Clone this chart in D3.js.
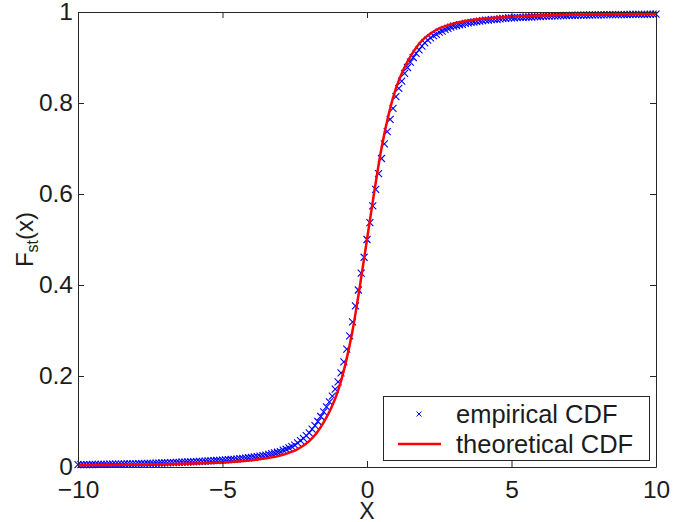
<!DOCTYPE html>
<html>
<head>
<meta charset="utf-8">
<script src="https://cdn.jsdelivr.net/npm/d3@7"></script>
<style>
  html, body { margin: 0; padding: 0; background: #fff; }
  svg { display: block; }
  text { font-family: "Liberation Sans", Arial, Helvetica, sans-serif; fill: #1c1c1c; }
</style>
</head>
<body>
<svg id="chart" width="692" height="522"></svg>
<script>
// Tick positions and labels
const xTicks = [-10, -5, 0, 5, 10];
const xTickLabels = ["\u221210", "\u22125", "0", "5", "10"];
const yTicks = [0, 0.2, 0.4, 0.6, 0.8, 1];
const yTickLabels = ["0", "0.2", "0.4", "0.6", "0.8", "1"];

// Theoretical CDF, sampled along x
const theoX = [-10, -9, -8, -7, -6, -5, -4.5, -4, -3.5, -3, -2.75, -2.5, -2.25, -2, -1.75, -1.5, -1.25, -1, -0.75, -0.5, -0.25,
  0, 0.25, 0.5, 0.75, 1, 1.25, 1.5, 1.75, 2, 2.25, 2.5, 2.75, 3, 3.5, 4, 4.5, 5, 6, 7, 8, 9, 10];
const theoY = [0.004, 0.0045, 0.005, 0.006, 0.0075, 0.010, 0.012, 0.015, 0.019, 0.025, 0.030, 0.036, 0.045, 0.057, 0.074, 0.098, 0.128, 0.168, 0.225, 0.300, 0.396,
  0.500, 0.604, 0.700, 0.775, 0.832, 0.872, 0.902, 0.926, 0.943, 0.955, 0.964, 0.970, 0.975, 0.981, 0.985, 0.988, 0.990, 0.9925, 0.994, 0.995, 0.9955, 0.996];

// Empirical CDF evaluated on the sample grid
const empX = [
  -10, -9.9, -9.8, -9.7, -9.6, -9.5, -9.4, -9.3, -9.2, -9.1,
  -9, -8.9, -8.8, -8.7, -8.6, -8.5, -8.4, -8.3, -8.2, -8.1,
  -8, -7.9, -7.8, -7.7, -7.6, -7.5, -7.4, -7.3, -7.2, -7.1,
  -7, -6.9, -6.8, -6.7, -6.6, -6.5, -6.4, -6.3, -6.2, -6.1,
  -6, -5.9, -5.8, -5.7, -5.6, -5.5, -5.4, -5.3, -5.2, -5.1,
  -5, -4.9, -4.8, -4.7, -4.6, -4.5, -4.4, -4.3, -4.2, -4.1,
  -4, -3.9, -3.8, -3.7, -3.6, -3.5, -3.4, -3.3, -3.2, -3.1,
  -3, -2.9, -2.8, -2.7, -2.6, -2.5, -2.4, -2.3, -2.2, -2.1,
  -2, -1.9, -1.8, -1.7, -1.6, -1.5, -1.4, -1.3, -1.2, -1.1,
  -1, -0.9, -0.8, -0.7, -0.6, -0.5, -0.4, -0.3, -0.2, -0.1,
  0, 0.1, 0.2, 0.3, 0.4, 0.5, 0.6, 0.7, 0.8, 0.9,
  1, 1.1, 1.2, 1.3, 1.4, 1.5, 1.6, 1.7, 1.8, 1.9,
  2, 2.1, 2.2, 2.3, 2.4, 2.5, 2.6, 2.7, 2.8, 2.9,
  3, 3.1, 3.2, 3.3, 3.4, 3.5, 3.6, 3.7, 3.8, 3.9,
  4, 4.1, 4.2, 4.3, 4.4, 4.5, 4.6, 4.7, 4.8, 4.9,
  5, 5.1, 5.2, 5.3, 5.4, 5.5, 5.6, 5.7, 5.8, 5.9,
  6, 6.1, 6.2, 6.3, 6.4, 6.5, 6.6, 6.7, 6.8, 6.9,
  7, 7.1, 7.2, 7.3, 7.4, 7.5, 7.6, 7.7, 7.8, 7.9,
  8, 8.1, 8.2, 8.3, 8.4, 8.5, 8.6, 8.7, 8.8, 8.9,
  9, 9.1, 9.2, 9.3, 9.4, 9.5, 9.6, 9.7, 9.8, 9.9,
  10];
const empY = [
  0.0050, 0.0051, 0.0052, 0.0053, 0.0054, 0.0055, 0.0056, 0.0057, 0.0058, 0.0059,
  0.0060, 0.0061, 0.0062, 0.0063, 0.0064, 0.0065, 0.0066, 0.0067, 0.0068, 0.0069,
  0.0070, 0.0072, 0.0074, 0.0076, 0.0078, 0.0080, 0.0082, 0.0084, 0.0086, 0.0088,
  0.0090, 0.0093, 0.0095, 0.0098, 0.0100, 0.0103, 0.0105, 0.0108, 0.0110, 0.0113,
  0.0115, 0.0119, 0.0122, 0.0126, 0.0129, 0.0133, 0.0136, 0.0140, 0.0143, 0.0147,
  0.0150, 0.0155, 0.0160, 0.0165, 0.0170, 0.0175, 0.0182, 0.0189, 0.0196, 0.0203,
  0.0210, 0.0220, 0.0230, 0.0240, 0.0250, 0.0260, 0.0276, 0.0292, 0.0308, 0.0324,
  0.034, 0.037, 0.039, 0.042, 0.045, 0.048, 0.053, 0.058, 0.063, 0.069,
  0.075, 0.083, 0.091, 0.100, 0.111, 0.121, 0.132, 0.143, 0.156, 0.171,
  0.187, 0.207, 0.231, 0.259, 0.288, 0.319, 0.354, 0.389, 0.426, 0.461,
  0.500, 0.537, 0.574, 0.610, 0.645, 0.678, 0.710, 0.737, 0.764, 0.788,
  0.814, 0.832, 0.848, 0.865, 0.878, 0.890, 0.900, 0.909, 0.917, 0.925,
  0.932, 0.938, 0.943, 0.948, 0.951, 0.956, 0.958, 0.962, 0.964, 0.967,
  0.969, 0.970, 0.972, 0.973, 0.975, 0.976, 0.977, 0.978, 0.979, 0.980,
  0.981, 0.982, 0.982, 0.983, 0.984, 0.984, 0.985, 0.986, 0.986, 0.987,
  0.987, 0.987, 0.988, 0.988, 0.988, 0.989, 0.989, 0.989, 0.990, 0.990,
  0.990, 0.9907, 0.9909, 0.9911, 0.9913, 0.9915, 0.9917, 0.9919, 0.9921, 0.9923,
  0.9925, 0.9926, 0.9928, 0.9929, 0.9930, 0.9932, 0.9933, 0.9934, 0.9935, 0.9937,
  0.9938, 0.9939, 0.9939, 0.9940, 0.9941, 0.9942, 0.9942, 0.9943, 0.9944, 0.9944,
  0.9945, 0.9946, 0.9947, 0.9947, 0.9948, 0.9949, 0.9949, 0.9950, 0.9951, 0.9951,
  0.9952];

const legendLabels = ["empirical CDF", "theoretical CDF"];

// Layout
const W = 692, H = 522;
const plot = { left: 78, right: 656, top: 12, bottom: 467 };
const FONT = 24.5;

const svg = d3.select("#chart");

const x = d3.scaleLinear().domain([-10, 10]).range([plot.left, plot.right]);
const y = d3.scaleLinear().domain([0, 1]).range([plot.bottom, plot.top]);

// Clip for data marks
svg.append("defs").append("clipPath").attr("id", "plotClip")
  .append("rect")
  .attr("x", plot.left - 4).attr("y", plot.top - 4)
  .attr("width", plot.right - plot.left + 8).attr("height", plot.bottom - plot.top + 8);

// Empirical CDF: cross markers
const empPts = empX.map((v, i) => [v, empY[i]]);
const ms = 3.5;
const markers = svg.append("g").attr("clip-path", "url(#plotClip)")
  .attr("stroke", "#0000ff").attr("stroke-width", 1.1).attr("fill", "none");
markers.selectAll("path").data(empPts).join("path")
  .attr("d", d => {
    const cx = x(d[0]), cy = y(d[1]);
    return `M${cx - ms},${cy - ms}L${cx + ms},${cy + ms}M${cx - ms},${cy + ms}L${cx + ms},${cy - ms}`;
  });

// Theoretical CDF: red line
const theoPts = theoX.map((v, i) => [v, theoY[i]]);
svg.append("path")
  .datum(theoPts)
  .attr("clip-path", "url(#plotClip)")
  .attr("fill", "none")
  .attr("stroke", "#ff0000")
  .attr("stroke-width", 2.5)
  .attr("stroke-linejoin", "round")
  .attr("d", d3.line().x(d => x(d[0])).y(d => y(d[1])).curve(d3.curveMonotoneX));

// Axes (ticks point inward on all four sides)
function styleAxis(g) {
  g.attr("font-family", null).attr("font-size", null);
  g.selectAll("path.domain").attr("stroke", "#262626").attr("stroke-width", 1);
  g.selectAll(".tick line").attr("stroke", "#262626").attr("stroke-width", 1);
  g.selectAll(".tick text").style("font-size", FONT + "px").attr("fill", "#1c1c1c");
}

svg.append("g")
  .attr("transform", `translate(0,${plot.bottom})`)
  .call(d3.axisBottom(x).tickValues(xTicks).tickSizeInner(-6).tickSizeOuter(0).tickPadding(14)
    .tickFormat((d, i) => xTickLabels[i]))
  .call(styleAxis);

svg.append("g")
  .attr("transform", `translate(0,${plot.top})`)
  .call(d3.axisTop(x).tickValues(xTicks).tickSizeInner(-6).tickSizeOuter(0).tickFormat(""))
  .call(styleAxis);

svg.append("g")
  .attr("transform", `translate(${plot.left},0)`)
  .call(d3.axisLeft(y).tickValues(yTicks).tickSizeInner(-6).tickSizeOuter(0).tickPadding(5)
    .tickFormat((d, i) => yTickLabels[i]))
  .call(styleAxis);

svg.append("g")
  .attr("transform", `translate(${plot.right},0)`)
  .call(d3.axisRight(y).tickValues(yTicks).tickSizeInner(-6).tickSizeOuter(0).tickFormat(""))
  .call(styleAxis);

// Axis titles
svg.append("text")
  .attr("x", x(0)).attr("y", 519)
  .attr("text-anchor", "middle")
  .style("font-size", "23px")
  .text("X");

const yTitle = svg.append("text")
  .attr("transform", `translate(33,${y(0.5)}) rotate(-90)`)
  .attr("text-anchor", "middle")
  .style("font-size", "24px");
yTitle.append("tspan").text("F");
yTitle.append("tspan").attr("dy", 5).style("font-size", "16px").text("st");
yTitle.append("tspan").attr("dy", -5).text("(x)");

// Legend
const lg = { x0: 383.5, y0: 396.5, x1: 649.5, y1: 460.5 };
const legend = svg.append("g");
legend.append("rect")
  .attr("x", lg.x0).attr("y", lg.y0)
  .attr("width", lg.x1 - lg.x0).attr("height", lg.y1 - lg.y0)
  .attr("fill", "#fff").attr("stroke", "#262626").attr("stroke-width", 1);

const row1 = 414, row2 = 444;
const lms = 2.5;
legend.append("path")
  .attr("d", `M${419 - lms},${row1 - lms}L${419 + lms},${row1 + lms}M${419 - lms},${row1 + lms}L${419 + lms},${row1 - lms}`)
  .attr("stroke", "#0000ff").attr("stroke-width", 1).attr("fill", "none");
legend.append("line")
  .attr("x1", 398).attr("x2", 441).attr("y1", row2).attr("y2", row2)
  .attr("stroke", "#ff0000").attr("stroke-width", 2.5);

legend.selectAll("text.lbl").data(legendLabels).join("text")
  .attr("class", "lbl")
  .attr("x", 456)
  .attr("y", (d, i) => (i === 0 ? row1 : row2) + 8.5)
  .style("font-size", "25.5px")
  .text(d => d);
</script>
</body>
</html>
